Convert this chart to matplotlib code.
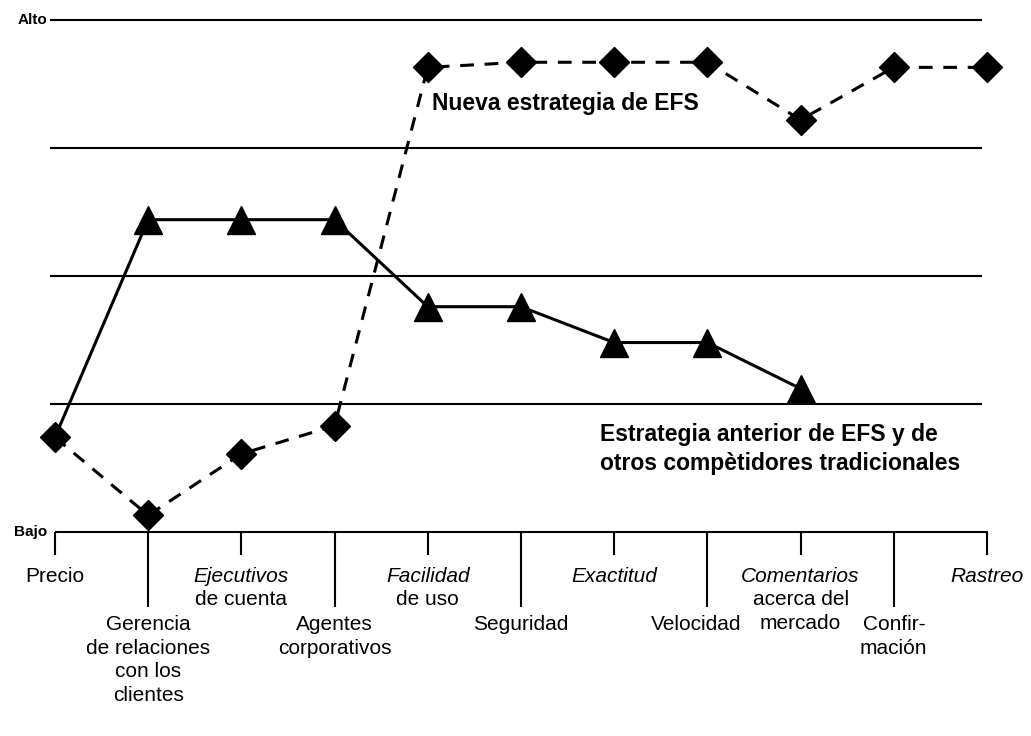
import numpy as np
import matplotlib
matplotlib.use("Agg")
import matplotlib.pyplot as plt

plt.rcParams['font.family'] = ['Liberation Sans', 'DejaVu Sans']

# factores de competencia (eje horizontal)
categorias = ['Precio',
              'Gerencia\nde relaciones\ncon los\nclientes',
              'Ejecutivos\nde cuenta',
              'Agentes\ncorporativos',
              'Facilidad\nde uso',
              'Seguridad',
              'Exactitud',
              'Velocidad',
              'Comentarios\nacerca del\nmercado',
              'Confir-\nmación',
              'Rastreo']
# primera linea en cursiva (las de tick corto, salvo Precio)
cursiva = [False, False, True, False, True, False, True, False, True, False, True]

# nivel 0 = Bajo, 4 = Alto
nueva = [0.74, 0.13, 0.61, 0.83, 3.63, 3.67, 3.67, 3.67, 3.22, 3.63, 3.63]
anterior = [0.74, 2.44, 2.44, 2.44, 1.76, 1.76, 1.48, 1.48, 1.12, np.nan, np.nan]

niveles = [1, 2, 3, 4]

x = np.arange(len(categorias))

fig = plt.figure(figsize=(10.31, 7.36), dpi=100)
ax = fig.add_axes([0.0533, 0.2772, 0.904, 0.6956])
ax.set_xlim(0, len(categorias) - 1)
ax.set_ylim(0, 4)
ax.axis('off')

# lineas horizontales de nivel
ax.hlines(niveles, -0.05, 9.95, color='black', lw=1.5, clip_on=False)
# eje Bajo
ax.hlines(0, 0, 10.01, color='black', lw=1.5, clip_on=False)
for i in x:
    largo = 0.18 if i % 2 == 0 else 0.59
    ax.vlines(i, -largo, 0, color='black', lw=1.5, clip_on=False)
    ytxt = -0.27 if i % 2 == 0 else -0.65
    xtxt = i - 0.12 if categorias[i] == 'Velocidad' else i
    partes = categorias[i].split('\n', 1)
    ax.text(xtxt, ytxt, partes[0], ha='center', va='top', fontsize=15,
            style='italic' if cursiva[i] else 'normal')
    if len(partes) > 1:
        ax.text(xtxt, ytxt - 0.185, partes[1], ha='center', va='top',
                fontsize=15, linespacing=1.3)

ax.text(-0.08, 4, 'Alto', ha='right', va='center', fontsize=11, fontweight='bold')
ax.text(-0.08, 0, 'Bajo', ha='right', va='center', fontsize=11, fontweight='bold')

# estrategia anterior (linea continua)
ax.plot(x, anterior, color='black', lw=2.2, marker='^', markersize=20,
        markevery=list(range(1, 9)), clip_on=False, zorder=3)
# nueva estrategia (linea discontinua)
ax.plot(x, nueva, color='black', lw=2.2, dashes=(4.5, 3.5), marker='D',
        markersize=15, clip_on=False, zorder=4)

ax.text(4.05, 3.35, 'Nueva estrategia de EFS', ha='left', va='center',
        fontsize=16.5, fontweight='bold')
ax.text(5.85, 0.85, 'Estrategia anterior de EFS y de\notros compètidores tradicionales',
        ha='left', va='top', fontsize=16.5, fontweight='bold', linespacing=1.35)

fig.savefig('out.png', dpi=100)
